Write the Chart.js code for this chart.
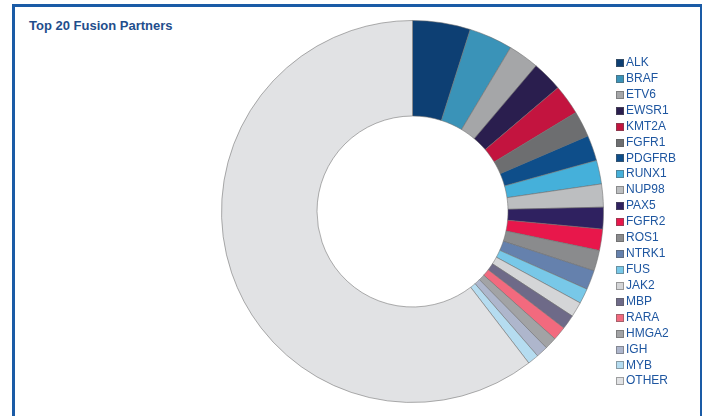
<!DOCTYPE html>
<html>
<head>
<meta charset="utf-8">
<script src="https://cdn.jsdelivr.net/npm/chart.js@4/dist/chart.umd.min.js"></script>
<style>
  html, body { margin: 0; padding: 0; background: #fff; }
  body { width: 702px; height: 416px; position: relative; overflow: hidden; font-family: "Liberation Sans", Arial, sans-serif; }
  #frame { position: absolute; left: 12px; top: 4px; width: 685px; height: 440px; border: 3px solid #1A5BA6; border-bottom: none; }
  #title { position: absolute; left: 29px; top: 18px; font-size: 13px; font-weight: bold; color: #1F4E8C; }
  #wrap { position: absolute; left: 0; top: 0; width: 702px; height: 416px; }
  #legend { position: absolute; left: 616px; top: 55px; margin: 0; padding: 0; list-style: none; }
  #legend li { height: 15.93px; line-height: 15.93px; display: flex; align-items: center; font-size: 12px; color: #1E56A0; white-space: nowrap; }
  #legend li span.box { display: inline-block; width: 8px; height: 8px; margin-right: 2px; box-sizing: border-box; border: 1px solid rgba(90,90,90,0.5); }
</style>
</head>
<body>
<div id="frame"></div>
<div id="title">Top 20 Fusion Partners</div>
<div id="wrap"><canvas id="fusionChart" width="702" height="416"></canvas></div>
<ul id="legend"></ul>
<script>
// fusion partner counts
const partners = ['ALK', 'BRAF', 'ETV6', 'EWSR1', 'KMT2A', 'FGFR1', 'PDGFRB', 'RUNX1', 'NUP98', 'PAX5',
  'FGFR2', 'ROS1', 'NTRK1', 'FUS', 'JAK2', 'MBP', 'RARA', 'HMGA2', 'IGH', 'MYB', 'OTHER'];
const counts = [176, 133, 94, 93, 92, 79, 78, 72, 70, 66,
  65, 63, 59, 46, 46, 44, 42, 37, 36, 34, 2175];
const sliceColors = ['#0D3F73', '#3A93B8', '#A5A6A8', '#2A1E4E', '#C3143F', '#6D6E70', '#0E4E8A', '#45B0DA', '#BCBEC0', '#2F2160',
  '#E8174B', '#8A8B8D', '#6581AD', '#78C8E8', '#D4D5D7', '#6E6A88', '#F26A7E', '#A2A3A5', '#AEB6CC', '#B5DCF0', '#E1E2E4'];

// html legend, same idea as the chart.js docs sample
const htmlLegend = {
  id: 'htmlLegend',
  afterUpdate(chart) {
    const ul = document.getElementById('legend');
    ul.innerHTML = '';
    const items = chart.options.plugins.legend.labels.generateLabels(chart);
    items.forEach(item => {
      const li = document.createElement('li');
      const box = document.createElement('span');
      box.className = 'box';
      box.style.background = item.fillStyle;
      const txt = document.createElement('span');
      txt.textContent = item.text;
      li.appendChild(box);
      li.appendChild(txt);
      ul.appendChild(li);
    });
  }
};

var ctx = document.getElementById('fusionChart').getContext('2d');
var fusionChart = new Chart(ctx, {
  type: 'doughnut',
  data: {
    labels: partners,
    datasets: [{
      data: counts,
      backgroundColor: sliceColors,
      borderColor: 'rgba(110,110,110,0.55)',
      borderWidth: 1
    }]
  },
  options: {
    responsive: false,
    animation: false,
    cutout: '50%',
    layout: { padding: { top: 20, bottom: 13, left: 221, right: 98 } },
    plugins: {
      legend: { display: false },
      tooltip: { enabled: false }
    }
  },
  plugins: [htmlLegend]
});
</script>
</body>
</html>
